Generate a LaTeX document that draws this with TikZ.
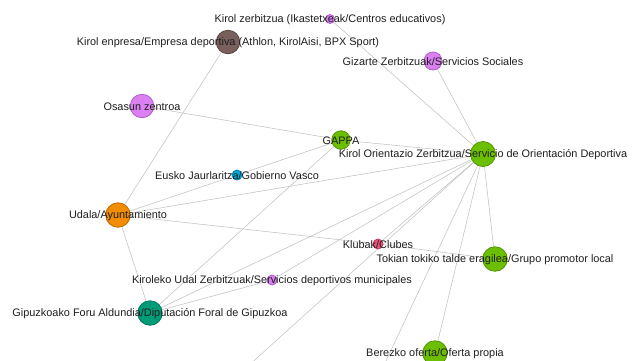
\documentclass[tikz,border=0pt]{standalone}
\usepackage{fontspec}
\setmainfont{Liberation Sans}
\definecolor{cpurple}{RGB}{218,128,240}
\definecolor{cpurpleb}{RGB}{175,95,200}
\definecolor{cbrown}{RGB}{122,96,92}
\definecolor{cbrownb}{RGB}{88,68,64}
\definecolor{cgreen}{RGB}{108,190,0}
\definecolor{cgreenb}{RGB}{84,150,0}
\definecolor{corange}{RGB}{242,140,0}
\definecolor{corangeb}{RGB}{190,108,0}
\definecolor{cblue}{RGB}{0,170,222}
\definecolor{cblueb}{RGB}{0,130,180}
\definecolor{cpink}{RGB}{240,82,122}
\definecolor{cpinkb}{RGB}{190,60,95}
\definecolor{cteal}{RGB}{0,156,120}
\definecolor{ctealb}{RGB}{0,118,90}
\definecolor{cedge}{RGB}{195,195,195}
\tikzset{
  dot/.style={circle,inner sep=0pt,line width=0.8pt},
  dpurple/.style={dot,fill=cpurple,draw=cpurpleb},
  dbrown/.style={dot,fill=cbrown,draw=cbrownb},
  dgreen/.style={dot,fill=cgreen,draw=cgreenb},
  dorange/.style={dot,fill=corange,draw=corangeb},
  dblue/.style={dot,fill=cblue,draw=cblueb},
  dpink/.style={dot,fill=cpink,draw=cpinkb},
  dteal/.style={dot,fill=cteal,draw=ctealb},
  lbl/.style={font=\fontsize{10.9}{12}\selectfont,text=black!88,inner sep=0pt,anchor=center,yshift=-0.8pt},
  edge/.style={draw=cedge,line width=0.55pt}
}
\begin{document}
\begin{tikzpicture}[x=1pt,y=-1pt]
\useasboundingbox (0,0) rectangle (640,360);
\fill[white] (0,0) rectangle (640,360);
% node positions
\coordinate (zer) at (330,19);
\coordinate (enp) at (228,42);
\coordinate (giz) at (433,61);
\coordinate (osa) at (142,106);
\coordinate (gap) at (341,140);
\coordinate (ori) at (483,154);
\coordinate (eus) at (237,175);
\coordinate (uda) at (118,215);
\coordinate (klu) at (378,244);
\coordinate (tok) at (495,259);
\coordinate (kir) at (272,280);
\coordinate (gip) at (150,313);
\coordinate (ber) at (435,353);
\coordinate (offa) at (237,376);
\coordinate (offb) at (379,376);
% edges
\begin{scope}
\clip (0,0) rectangle (640,360);
\path[edge] (zer) -- (ori);
\path[edge] (giz) -- (ori);
\path[edge] (enp) -- (uda);
\path[edge] (osa) -- (gap);
\path[edge] (gap) -- (ori);
\path[edge] (uda) -- (eus);
\path[edge] (eus) -- (gap);
\path[edge] (uda) -- (ori);
\path[edge] (uda) -- (klu);
\path[edge] (klu) -- (tok);
\path[edge] (uda) -- (gip);
\path[edge] (gap) -- (gip);
\path[edge] (gip) -- (ori);
\path[edge] (gip) -- (kir);
\path[edge] (kir) -- (ori);
\path[edge] (klu) -- (ori);
\path[edge] (ori) -- (offa);
\path[edge] (ori) -- (offb);
\path[edge] (ori) -- (ber);
\path[edge] (ori) -- (tok);
\end{scope}
% nodes
\node[dpurple,minimum size=9pt] (nzer) at (zer) {};
\node[dbrown,minimum size=23.5pt] (nenp) at (enp) {};
\node[dpurple,minimum size=18pt] (ngiz) at (giz) {};
\node[dpurple,minimum size=23.5pt] (nosa) at (osa) {};
\node[dgreen,minimum size=18.5pt] (ngap) at (gap) {};
\node[dgreen,minimum size=25pt] (nori) at (ori) {};
\node[dblue,minimum size=10pt] (neus) at (eus) {};
\node[dorange,minimum size=24.5pt] (nuda) at (uda) {};
\node[dpink,minimum size=10pt] (nklu) at (klu) {};
\node[dgreen,minimum size=24.5pt] (ntok) at (tok) {};
\node[dpurple,minimum size=10pt] (nkir) at (kir) {};
\node[dteal,minimum size=24.5pt] (ngip) at (gip) {};
\node[dgreen,minimum size=24.5pt] (nber) at (ber) {};
% labels
\node[lbl] (tzer) at (zer) {Kirol zerbitzua (Ikastetxeak/Centros educativos)};
\node[lbl] (tenp) at (enp) {Kirol enpresa/Empresa deportiva (Athlon, KirolAisi, BPX Sport)};
\node[lbl] (tgiz) at (giz) {Gizarte Zerbitzuak/Servicios Sociales};
\node[lbl] (tosa) at (osa) {Osasun zentroa};
\node[lbl] (tgap) at (gap) {GAPPA};
\node[lbl] (tori) at (ori) {Kirol Orientazio Zerbitzua/Servicio de Orientación Deportiva};
\node[lbl] (teus) at (eus) {Eusko Jaurlaritza/Gobierno Vasco};
\node[lbl] (tuda) at (uda) {Udala/Ayuntamiento};
\node[lbl] (tklu) at (klu) {Klubak/Clubes};
\node[lbl] (ttok) at (tok) {Tokian tokiko talde eragilea/Grupo promotor local};
\node[lbl] (tkir) at (kir) {Kiroleko Udal Zerbitzuak/Servicios deportivos municipales};
\node[lbl] (tgip) at (gip) {Gipuzkoako Foru Aldundia/Diputación Foral de Gipuzkoa};
\node[lbl] (tber) at (ber) {Berezko oferta/Oferta propia};
\end{tikzpicture}
\end{document}
